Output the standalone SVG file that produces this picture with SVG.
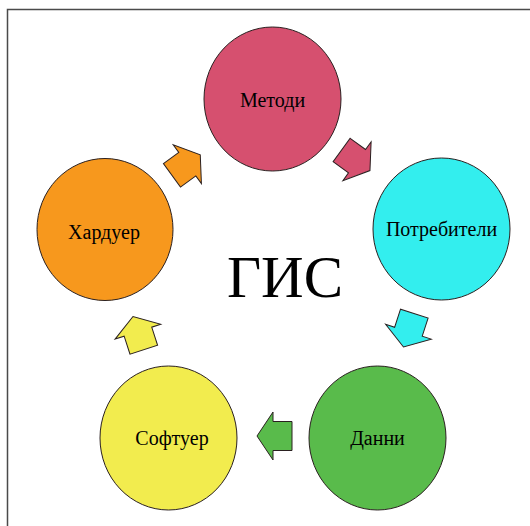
<svg xmlns="http://www.w3.org/2000/svg" width="530" height="526" viewBox="0 0 530 526">
<style>
.node{stroke:#2a2020;stroke-width:1}
.arr{stroke:#2a2020;stroke-width:1;stroke-linejoin:miter}
.lbl{font-family:"Liberation Serif","Times New Roman",serif;font-size:20px;fill:#000;text-anchor:middle;dominant-baseline:central}
.title{font-family:"Liberation Serif","Times New Roman",serif;font-size:59px;fill:#000;text-anchor:middle}
</style>
<defs>
<polygon id="arrow" points="-17.5,-14.5 1.5,-14.5 1.5,-24 17.5,0 1.5,24 1.5,14.5 -17.5,14.5"/>
</defs>
<rect width="530" height="526" fill="#fff"/>
<path d="M7.5,526 V9.5 H530" fill="none" stroke="#4a4a4a" stroke-width="1.5"/>
<g id="connectors">
<use href="#arrow" class="arr" fill="#D6506F" transform="translate(355.8,160.3) rotate(36)"/>
<use href="#arrow" class="arr" fill="#33EEEE" transform="translate(408.9,330.3) rotate(108)"/>
<use href="#arrow" class="arr" fill="#59BB4B" transform="translate(274.5,436) rotate(180)"/>
<use href="#arrow" class="arr" fill="#F2EC4E" transform="translate(138.4,333.1) rotate(252)"/>
<use href="#arrow" class="arr" fill="#F7981D" transform="translate(186.1,165.1) rotate(-36)"/>
</g>
<g id="metodi">
<ellipse class="node" cx="272.5" cy="99" rx="68.5" ry="72" fill="#D6506F"/>
<text class="lbl" x="272.5" y="100">Методи</text>
</g>
<g id="potrebiteli">
<ellipse class="node" cx="441.5" cy="229" rx="68.5" ry="71" fill="#33EEEE"/>
<text class="lbl" x="441.5" y="229">Потребители</text>
</g>
<g id="danni">
<ellipse class="node" cx="377.5" cy="438" rx="68.5" ry="72" fill="#59BB4B"/>
<text class="lbl" x="377.5" y="438">Данни</text>
</g>
<g id="softuer">
<ellipse class="node" cx="168.5" cy="438" rx="68.5" ry="72" fill="#F2EC4E"/>
<text class="lbl" x="172" y="438">Софтуер</text>
</g>
<g id="harduer">
<ellipse class="node" cx="105" cy="229.5" rx="68" ry="71" fill="#F7981D"/>
<text class="lbl" x="104" y="232">Хардуер</text>
</g>
<g id="title">
<text class="title" x="285" y="297">ГИС</text>
</g>
</svg>
